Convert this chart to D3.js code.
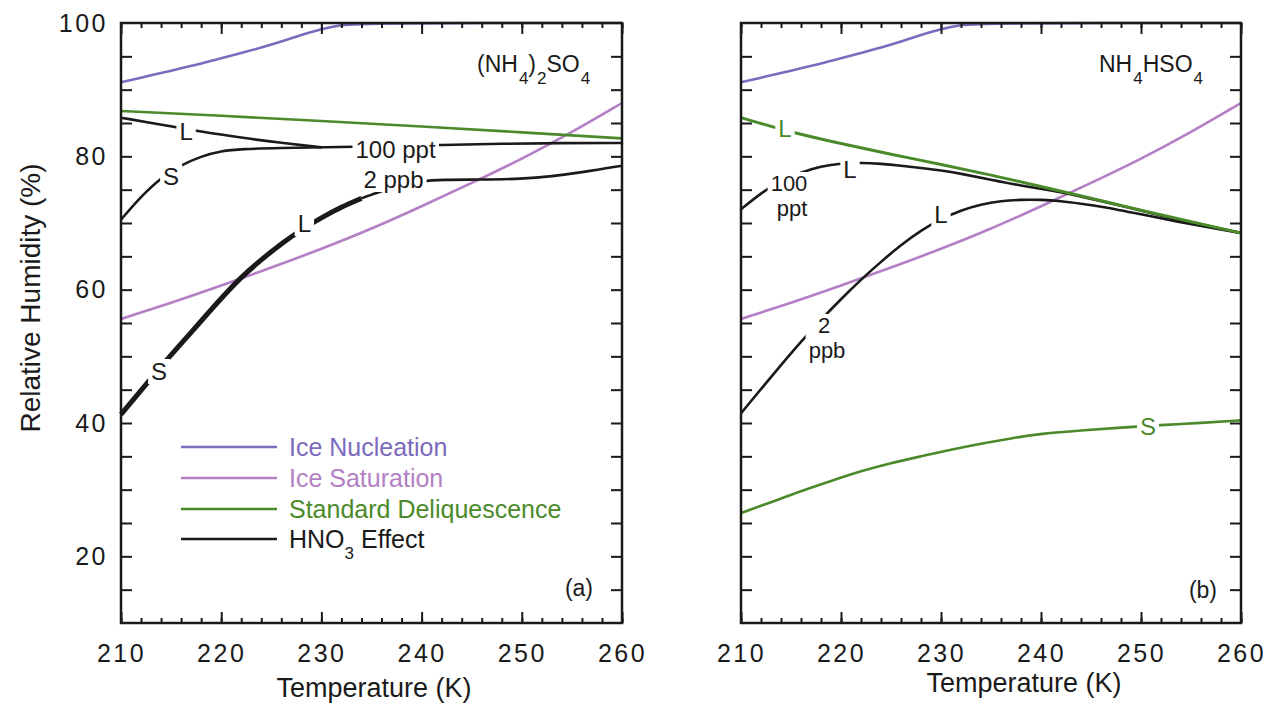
<!DOCTYPE html>
<html>
<head>
<meta charset="utf-8">
<script src="https://cdn.jsdelivr.net/npm/d3@7"></script>
<style>
body { margin: 0; background: #fff; }
text { font-family: "Liberation Sans", Arial, Helvetica, sans-serif; fill: #1a1a1a; }
</style>
</head>
<body>
<svg width="1271" height="707"></svg>
<script>
const svg = d3.select("svg");

// ---- data (temperature K, relative humidity %) ----
const xMajorTicks = [210, 220, 230, 240, 250, 260];
const yLabelTicks = [20, 40, 60, 80, 100];

const iceNucleation = [[210,91.1],[212,91.8],[214,92.5],[216,93.2],[218,93.9],[220,94.7],[222,95.5],[224,96.3],[226,97.2],[228,98.2],[230,99.1],[232,99.7],[234,100],[260,100]];
const iceSaturation = [[210,55.6],[215,58.0],[220,60.6],[225,63.3],[230,66.1],[235,69.1],[240,72.5],[245,76.0],[250,79.6],[255,83.6],[260,88.0]];

// (a) (NH4)2SO4
const delqA = [[210,86.8],[220,86.1],[230,85.3],[240,84.5],[250,83.6],[260,82.7]];
const hno3A_100ppt_L = [[210,85.8],[215,84.5],[218,83.7],[222,82.8],[226,82.0],[230,81.35]];
const hno3A_100ppt_S = [[210,70.5],[212,74.0],[214,76.8],[216,78.7],[218,80.0],[220,80.8],[222,81.1],[226,81.25],[230,81.35],[236,81.5],[242,81.7],[248,81.9],[254,82.0],[260,82.0]];
const hno3A_2ppb_SL = [[210,41.3],[212,44.9],[214,48.5],[216,51.9],[218,55.3],[220,58.7],[222,61.9],[224,64.5],[226,66.9],[228,69.0],[230,70.8],[232,72.4],[234,73.7]];
const hno3A_2ppb = [[234,73.7],[236,74.8],[238,75.7],[240,76.3],[242,76.5],[246,76.5],[250,76.6],[253,77.0],[256,77.6],[260,78.6]];

// (b) NH4HSO4
const delqB_L = [[210,85.8],[215,83.6],[220,81.9],[225,80.3],[230,78.8],[235,77.2],[240,75.5],[245,73.7],[250,71.9],[255,70.2],[260,68.5]];
const delqB_S = [[210,26.5],[213,28.1],[216,29.8],[219,31.3],[222,32.8],[225,34.0],[228,35.0],[231,36.0],[234,36.9],[237,37.7],[240,38.4],[244,38.9],[248,39.3],[252,39.7],[256,40.0],[260,40.4]];
const hno3B_100ppt = [[210,72.05],[212,74.5],[214,76.4],[216,77.6],[218,78.5],[220,78.95],[222,79.05],[224,78.9],[226,78.6],[228,78.25],[230,77.9],[232,77.4],[235,76.5],[238,75.6],[241,74.9],[244,74.0],[248,72.6],[252,71.1],[256,69.8],[260,68.5]];
const hno3B_2ppb = [[210,41.45],[212,45.1],[214,48.7],[216,52.2],[218,55.5],[220,58.6],[222,61.5],[224,64.2],[226,66.7],[228,68.9],[230,70.6],[232,71.9],[234,72.8],[236,73.3],[238,73.5],[240,73.5],[242,73.3],[244,72.9],[246,72.5],[250,71.3],[254,70.1],[257,69.3],[260,68.5]];

// curve labels: [T, RH at baseline, text lines...]
const labelsA = [
  [216.5, 82.45, "L"], [215.0, 75.7, "S"], [237.4, 79.75, "100 ppt"],
  [237.2, 75.25, "2 ppb"], [228.3, 68.65, "L"], [213.8, 46.45, "S"]
];
const labelsB = [
  [214.8, 74.8, "100", "ppt"], [220.9, 76.75, "L"], [230.0, 70.0, "L"], [218.3, 53.5, "2", "ppb"]
];
const greenLabelsB = [[214.4, 82.9, "L"], [250.7, 38.2, "S"]];

const legendItems = ["Ice Nucleation", "Ice Saturation", "Standard Deliquescence", "HNO3 Effect"];

// ---- scales ----
const colNuc = "#7b6abd", colSat = "#b47fc5", colGreen = "#4b8a2b", colBlack = "#1a1a1a";
const y = d3.scaleLinear().domain([10, 100]).range([623, 23]);
const xA = d3.scaleLinear().domain([210, 260]).range([121, 622]);
const xB = d3.scaleLinear().domain([210, 260]).range([741, 1241]);

function drawLine(x, data, color, w) {
  svg.append("path")
    .datum(data)
    .attr("fill", "none")
    .attr("stroke", color)
    .attr("stroke-width", w)
    .attr("stroke-linejoin", "round")
    .attr("d", d3.line().x(d => x(d[0])).y(d => y(d[1])).curve(d3.curveBasis));
}

function drawLabel(x, lab, color) {
  const g = svg.append("g");
  const stacked = lab.length > 3;
  const t = g.append("text")
    .attr("x", x(lab[0]))
    .attr("y", y(lab[1]))
    .attr("text-anchor", "middle")
    .style("font-size", stacked ? "22px" : "24px")
    .style("fill", color);
  lab.slice(2).forEach((s, i) => {
    t.append("tspan").attr("x", x(lab[0]) + (i ? 3 : 0)).attr("dy", i ? 25 : 0).text(s);
  });
  const bb = t.node().getBBox();
  g.insert("rect", "text")
    .attr("x", bb.x - 3).attr("y", bb.y + 1)
    .attr("width", bb.width + 6).attr("height", bb.height - 2)
    .attr("fill", "#fff");
}

function drawAxes(x, withLabels) {
  const g = svg.append("g");
  const xr = x.range();
  const minor = d3.range(210, 261, 2), yMinor = d3.range(15, 100, 5);
  g.append("g").attr("transform", "translate(0,623)")
    .call(d3.axisBottom(x).tickValues(minor).tickSize(-5).tickFormat(""));
  g.append("g").attr("transform", "translate(0,623)")
    .call(d3.axisBottom(x).tickValues(xMajorTicks).tickSize(-11).tickPadding(21).tickFormat(d3.format("d")));
  g.append("g").attr("transform", "translate(0,23)")
    .call(d3.axisTop(x).tickValues(minor).tickSize(-5).tickFormat(""));
  g.append("g").attr("transform", "translate(0,23)")
    .call(d3.axisTop(x).tickValues(xMajorTicks).tickSize(-11).tickFormat(""));
  g.append("g").attr("transform", `translate(${xr[0]},0)`)
    .call(d3.axisLeft(y).tickValues(yMinor).tickSize(-11).tickFormat(""));
  g.append("g").attr("transform", `translate(${xr[1]},0)`)
    .call(d3.axisRight(y).tickValues(yMinor).tickSize(-11).tickFormat(""));
  if (withLabels) {
    g.append("g").attr("transform", `translate(${xr[0]},0)`)
      .call(d3.axisLeft(y).tickValues(yLabelTicks).tickSize(0).tickPadding(13).tickFormat(d3.format("d")));
  }
  g.selectAll(".domain").remove();
  g.selectAll(".tick line").attr("stroke", colBlack).attr("stroke-width", 2);
  g.selectAll(".tick text")
    .attr("fill", colBlack)
    .style("font-size", "25px")
    .style("letter-spacing", "2.5px")
    .style("font-family", "\"Liberation Sans\", Arial, sans-serif");
  svg.append("rect")
    .attr("x", xr[0]).attr("y", 23)
    .attr("width", xr[1] - xr[0]).attr("height", 600)
    .attr("fill", "none").attr("stroke", colBlack).attr("stroke-width", 2.5);
}

// ---- panel (a) ----
drawLine(xA, iceNucleation, colNuc, 2.6);
drawLine(xA, iceSaturation, colSat, 2.6);
drawLine(xA, delqA, colGreen, 2.6);
drawLine(xA, hno3A_100ppt_L, colBlack, 2.6);
drawLine(xA, hno3A_100ppt_S, colBlack, 2.6);
drawLine(xA, hno3A_2ppb_SL, colBlack, 5);
drawLine(xA, hno3A_2ppb, colBlack, 2.6);
labelsA.forEach(l => drawLabel(xA, l, colBlack));
drawAxes(xA, true);

// ---- panel (b) ----
drawLine(xB, iceNucleation, colNuc, 2.6);
drawLine(xB, iceSaturation, colSat, 2.6);
drawLine(xB, delqB_S, colGreen, 2.6);
drawLine(xB, hno3B_2ppb, colBlack, 2.6);
drawLine(xB, hno3B_100ppt, colBlack, 2.6);
drawLine(xB, delqB_L, colGreen, 3);
labelsB.forEach(l => drawLabel(xB, l, colBlack));
greenLabelsB.forEach(l => drawLabel(xB, l, colGreen));
drawAxes(xB, false);

// ---- legend ----
const legendColors = [colNuc, colSat, colGreen, colBlack];
const legendY = [447, 478, 509, 539];
legendItems.forEach((name, i) => {
  svg.append("line")
    .attr("x1", 181).attr("x2", 277)
    .attr("y1", legendY[i]).attr("y2", legendY[i])
    .attr("stroke", legendColors[i]).attr("stroke-width", 2.6);
  const t = svg.append("text")
    .attr("x", 289).attr("y", legendY[i] + 9)
    .style("font-size", "25px")
    .style("fill", legendColors[i]);
  if (name.startsWith("HNO3")) {
    t.append("tspan").text("HNO");
    t.append("tspan").attr("dy", 11).style("font-size", "17px").text("3");
    t.append("tspan").attr("dy", -11).text("  Effect");
  } else {
    t.text(name);
  }
});

// ---- titles ----
function chem(x, parts) {
  const t = svg.append("text").attr("x", x).attr("y", 72).style("font-size", "23px");
  let sub = false;
  parts.forEach(([s, isSub]) => {
    t.append("tspan")
      .attr("dy", isSub === sub ? 0 : (isSub ? 12 : -12))
      .attr("dx", isSub ? 1 : 0)
      .style("font-size", isSub ? "17px" : "23px")
      .text(s);
    sub = isSub;
  });
}
chem(477, [["(NH", false], ["4", true], [")", false], ["2", true], ["SO", false], ["4", true]]);
chem(1099, [["NH", false], ["4", true], ["HSO", false], ["4", true]]);

svg.append("text").attr("x", 593).attr("y", 596).attr("text-anchor", "end").style("font-size", "23px").text("(a)");
svg.append("text").attr("x", 1217).attr("y", 598).attr("text-anchor", "end").style("font-size", "23px").text("(b)");

svg.append("text").attr("x", 374).attr("y", 697).attr("text-anchor", "middle").style("font-size", "27px").text("Temperature (K)");
svg.append("text").attr("x", 1024).attr("y", 692).attr("text-anchor", "middle").style("font-size", "27px").text("Temperature (K)");
svg.append("text")
  .attr("transform", "translate(40,298) rotate(-90)")
  .attr("text-anchor", "middle")
  .style("font-size", "28px")
  .text("Relative Humidity (%)");
</script>
</body>
</html>
